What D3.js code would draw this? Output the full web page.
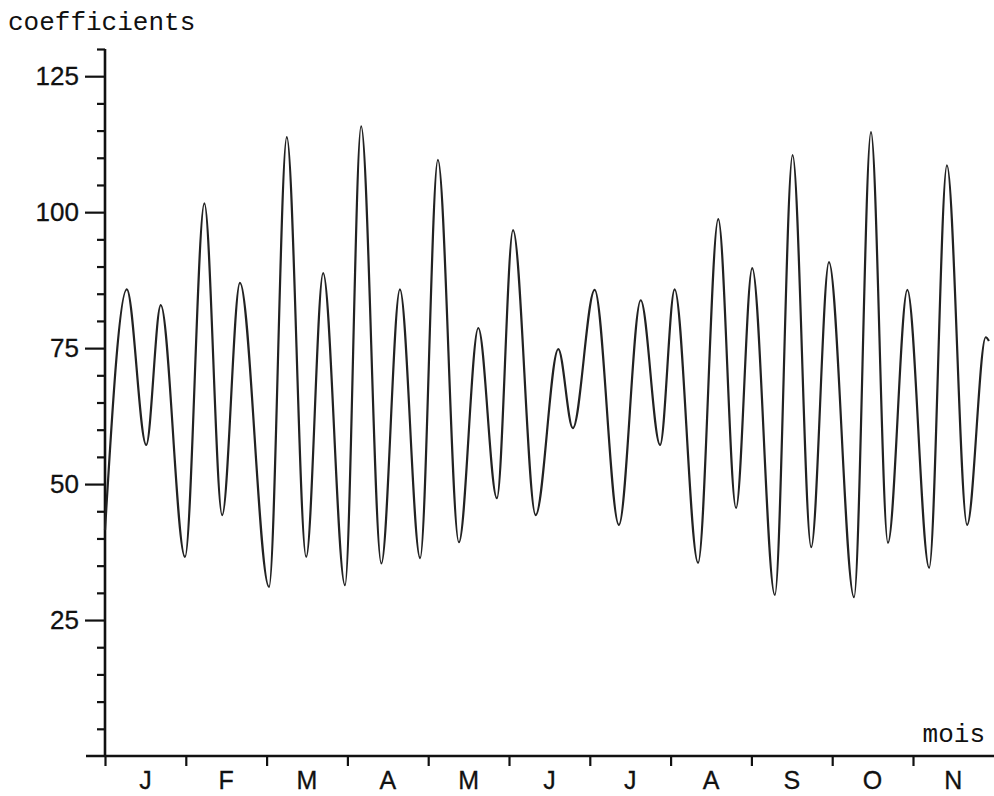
<!DOCTYPE html>
<html>
<head>
<meta charset="utf-8">
<script src="https://cdn.jsdelivr.net/npm/d3@7"></script>
<style>
  body { margin: 0; background: #fff; }
  .lbl { font-family: "Liberation Sans", Arial, sans-serif; font-size: 26px; fill: #111; stroke: #111; stroke-width: 0.3px; }
  .mois { font-size: 25px; }
  .mono { font-family: "Liberation Mono", "Courier New", monospace; font-size: 26px; fill: #111; }
</style>
</head>
<body>
<svg width="994" height="796"></svg>
<script>
'use strict';

// mois (J F M A M J J A S O N)
var mois = ["J", "F", "M", "A", "M", "J", "J", "A", "S", "O", "N"];

// position en mois depuis le 1er janvier (extrema)
var temps = [0.00, 0.27, 0.51, 0.69, 0.99, 1.23, 1.45, 1.67, 2.03, 2.25,
             2.49, 2.70, 2.97, 3.17, 3.42, 3.65, 3.90, 4.12, 4.38, 4.62,
             4.85, 5.05, 5.33, 5.61, 5.79, 6.06, 6.36, 6.63, 6.87, 7.05,
             7.34, 7.59, 7.81, 8.01, 8.29, 8.51, 8.74, 8.96, 9.27, 9.48,
             9.69, 9.93, 10.20, 10.42, 10.67, 10.90, 10.94];

// coefficients de marée
var coefficients = [41.5, 85.8, 57.2, 82.9, 36.6, 101.6, 44.3, 87.0, 31.1, 113.8,
                    36.6, 88.8, 31.4, 115.8, 35.4, 85.8, 36.4, 109.6, 39.3, 78.7,
                    47.4, 96.7, 44.3, 74.8, 60.3, 85.7, 42.5, 83.8, 57.2, 85.8,
                    35.5, 98.7, 45.6, 89.7, 29.6, 110.5, 38.4, 90.8, 29.2, 114.7,
                    39.2, 85.7, 34.6, 108.6, 42.5, 77.0, 76.3];

var ticksMajeurs = [25, 50, 75, 100, 125];

var dessiner = function() {
    var svg = d3.select("svg");
    var left = 105, bottom = 756, top = 49, right = 994;

    var x = d3.scaleLinear().domain([0, 11]).range([left, left + 11 * 80.8]);
    var y = d3.scaleLinear().domain([0, 130]).range([bottom, top]);

    var data = temps.map(function(t, i) { return { t: t, c: coefficients[i] }; });

    // axe vertical
    var gy = svg.append("g").attr("transform", "translate(" + left + ",0)");
    gy.call(d3.axisLeft(y)
        .tickValues(d3.range(5, 131, 5).filter(function(v) { return ticksMajeurs.indexOf(v) < 0; }))
        .tickSize(8).tickFormat(""));
    gy.append("g").call(d3.axisLeft(y).tickValues(ticksMajeurs).tickSize(20).tickPadding(6));
    gy.selectAll(".domain").remove();
    gy.selectAll("line").attr("stroke", "#111").attr("stroke-width", 2.2);
    gy.selectAll("text").attr("class", "lbl").attr("font-size", null).attr("font-family", null).attr("fill", null);
    svg.append("line")
        .attr("x1", left).attr("x2", left)
        .attr("y1", y(130)).attr("y2", bottom)
        .attr("stroke", "#111").attr("stroke-width", 2.6);

    // axe horizontal
    var gx = svg.append("g").attr("transform", "translate(0," + bottom + ")");
    gx.call(d3.axisBottom(x).tickValues(d3.range(0, 11)).tickSize(10).tickFormat(""));
    gx.selectAll(".domain").remove();
    gx.selectAll("line").attr("stroke", "#111").attr("stroke-width", 2.2);
    svg.append("line")
        .attr("x1", 86).attr("x2", right)
        .attr("y1", bottom).attr("y2", bottom)
        .attr("stroke", "#111").attr("stroke-width", 2.6);

    svg.selectAll(".mois")
        .data(mois)
        .enter().append("text")
        .attr("class", "lbl mois")
        .attr("text-anchor", "middle")
        .attr("x", function(d, i) { return x(i + 0.5); })
        .attr("y", 789)
        .text(function(d) { return d; });

    // courbe
    var ligne = d3.line()
        .x(function(d) { return x(d.t); })
        .y(function(d) { return y(d.c); })
        .curve(d3.curveMonotoneX);

    svg.append("path")
        .datum(data)
        .attr("d", ligne)
        .attr("fill", "none")
        .attr("stroke", "#222")
        .attr("stroke-width", 2.2);

    // titres
    svg.append("text").attr("class", "mono").attr("x", 8).attr("y", 30).text("coefficients");
    svg.append("text").attr("class", "mono").attr("x", 985).attr("y", 742)
        .attr("text-anchor", "end").text("mois");
};

dessiner();
</script>
</body>
</html>
